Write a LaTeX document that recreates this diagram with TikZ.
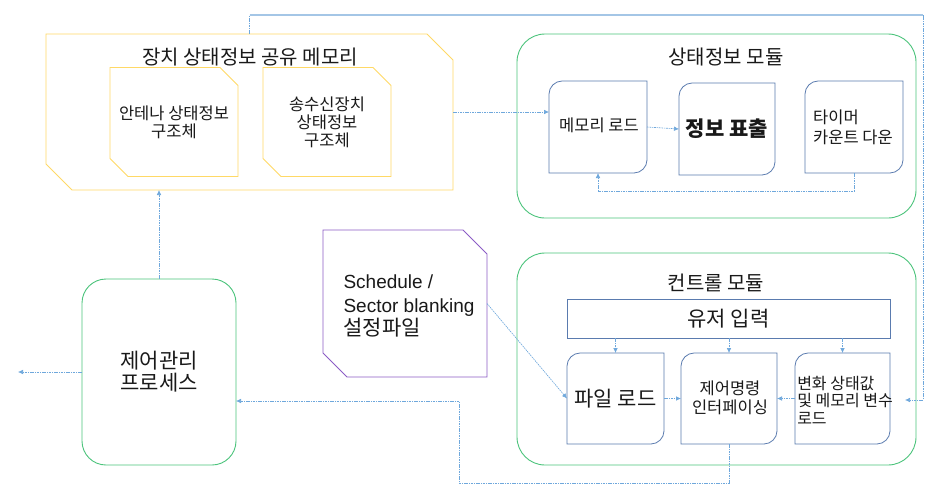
\documentclass[tikz,border=0pt]{standalone}
\usepackage{fontspec}
\setmainfont{Noto Sans CJK KR}
\newfontfamily\lib{Liberation Sans}
\usetikzlibrary{arrows.meta,calc}
\definecolor{cy}{HTML}{FFD966}
\definecolor{cg}{HTML}{4CC47C}
\definecolor{cp}{HTML}{8B5CC6}
\definecolor{cb}{HTML}{5A7BAF}
\definecolor{cl}{HTML}{6FA8DC}
\definecolor{ct}{HTML}{A4C6E6}
\newcommand\cutcorners[3]{%
  \draw[#3] (#1.north west) -- ([xshift=-#2]#1.north east) -- ([yshift=-#2]#1.north east)
    -- (#1.south east) -- ([xshift=#2]#1.south west) -- ([yshift=#2]#1.south west) -- cycle;}
\newcommand\rdiag[2]{%
  \draw[#2] ([yshift=-13pt]#1.north west) .. controls ([yshift=-6pt]#1.north west) and ([xshift=6pt]#1.north west) .. ([xshift=13pt]#1.north west)
    -- (#1.north east) -- ([yshift=13pt]#1.south east) .. controls ([yshift=6pt]#1.south east) and ([xshift=-6pt]#1.south east) .. ([xshift=-13pt]#1.south east)
    -- (#1.south west) -- cycle;}
\begin{document}
\begin{tikzpicture}[x=1pt,y=-1pt,
  box/.style={inner sep=0pt, outer sep=0pt, align=center, text=black!90},
  modbox/.style={box, draw=cg, line width=0.9pt, rounded corners=28pt},
  procbox/.style={box, draw=cg, line width=0.9pt, rounded corners=24pt},
  uibox/.style={box, draw=cb, line width=0.8pt},
  yline/.style={draw=cy, line width=0.9pt},
  pline/.style={draw=cp, line width=0.9pt},
  bline/.style={draw=cb, line width=0.8pt},
  conn/.style={draw=cl, line width=0.6pt, dash pattern=on 1.6pt off 0.8pt, -{Latex[length=5pt,width=4.5pt]}},
  topline/.style={draw=ct, line width=1.6pt},
  body/.style={font=\fontsize{16.5}{18}\selectfont},
  big/.style={font=\fontsize{21}{22}\selectfont},
  title/.style={font=\fontsize{20}{21}\selectfont}]
\fill[white] (0,0) rectangle (931,498);
\path[use as bounding box] (0,0) rectangle (931,498);

% modules
\node[modbox, minimum width=399pt, minimum height=184pt] (smod) at (716.5,126) {};
\node[modbox, minimum width=399pt, minimum height=212pt] (cmod) at (716.5,359) {};
\node[box, title] (smodt) at (726,57) {상태정보 모듈};
\node[box, title] (cmodt) at (716,283) {컨트롤 모듈};

% shared memory
\node[box, minimum width=407pt, minimum height=156pt] (sm) at (249.5,112) {};
\cutcorners{sm}{26pt}{yline}
\node[box, title] (smt) at (250,57) {장치 상태정보 공유 메모리};
\node[box, body, minimum width=128pt, minimum height=109pt] (ant) at (174,122) {안테나 상태정보\\구조체};
\cutcorners{ant}{18pt}{yline}
\node[box, body, minimum width=128pt, minimum height=109pt] (trx) at (327,122) {송수신장치\\상태정보\\구조체};
\cutcorners{trx}{18pt}{yline}

% state module boxes
\node[box, minimum width=98pt, minimum height=92pt] (mload) at (598,127) {};
\rdiag{mload}{bline}
\node[box, body] (mloadt) at (599,125) {메모리 로드};
\node[box, big, minimum width=96pt, minimum height=92pt] (info) at (727,129) {\bfseries 정보 표출};
\rdiag{info}{bline}
\node[box, minimum width=98pt, minimum height=92pt] (timer) at (854,127) {};
\rdiag{timer}{bline}
\node[box, align=left, font=\fontsize{16.5}{20}\selectfont] (timert) at (853,127) {타이머\\카운트 다운};

% control module boxes
\node[uibox, big, minimum width=323pt, minimum height=39pt] (ui) at (728.5,318.5) {유저 입력};
\node[box, big, minimum width=97pt, minimum height=91pt] (fl) at (615.5,398.5) {파일 로드};
\rdiag{fl}{bline}
\node[box, minimum width=96pt, minimum height=91pt] (cmd) at (729,398.5) {};
\rdiag{cmd}{bline}
\node[box, font=\fontsize{16.5}{19}\selectfont] (cmdt) at (730,398) {제어명령\\인터페이싱};
\node[box, minimum width=95pt, minimum height=91pt] (chg) at (842.5,398.5) {};
\rdiag{chg}{bline}
\node[box, align=left, font=\fontsize{16}{17.5}\selectfont] (chgt) at (845,400) {변화 상태값\\및 메모리 변수\\로드};

% schedule file
\node[box, minimum width=164pt, minimum height=147pt] (sched) at (405,303.5) {};
\cutcorners{sched}{24pt}{pline}
\node[box, align=left, font=\lib\fontsize{19}{23.5}\selectfont] (schedt) at (409,306) {Schedule /\\Sector blanking\\{\rmfamily\fontsize{21}{23.5}\selectfont 설정파일}};

% process
\node[procbox, big, minimum width=154pt, minimum height=186pt] (proc) at (159,372) {제어관리\\프로세스};

% connectors
\coordinate (tr) at (923,15);
\coordinate (ce) at (905,400);
\coordinate (outl) at (18,372);
\coordinate (k1) at (459,483);
\draw[conn] (sm.east) -- (sm.east -| mload.west);
\draw[conn] (mload.east) -- (info.west);
\draw[conn] (timer.south) -- ++(0,18) -| (mload.south);
\draw[conn] (sm.north) |- (tr) |- (ce);
\draw[topline] (sm.north |- tr) -- (tr);
\draw[conn] (proc.north) -- (proc.north |- sm.south);
\draw[conn] (proc.west) -- (outl);
\draw[conn] (cmd.south) |- (k1) |- ([yshift=-29pt]proc.east);
\draw[conn] (fl.north |- ui.south) -- (fl.north);
\draw[conn] (cmd.north |- ui.south) -- (cmd.north);
\draw[conn] (chg.north |- ui.south) -- (chg.north);
\draw[conn] (fl.east) -- (cmd.west);
\draw[conn] (chg.west) -- (cmd.east);
\draw[conn] (sched.east) -- (fl.west);
\end{tikzpicture}
\end{document}
